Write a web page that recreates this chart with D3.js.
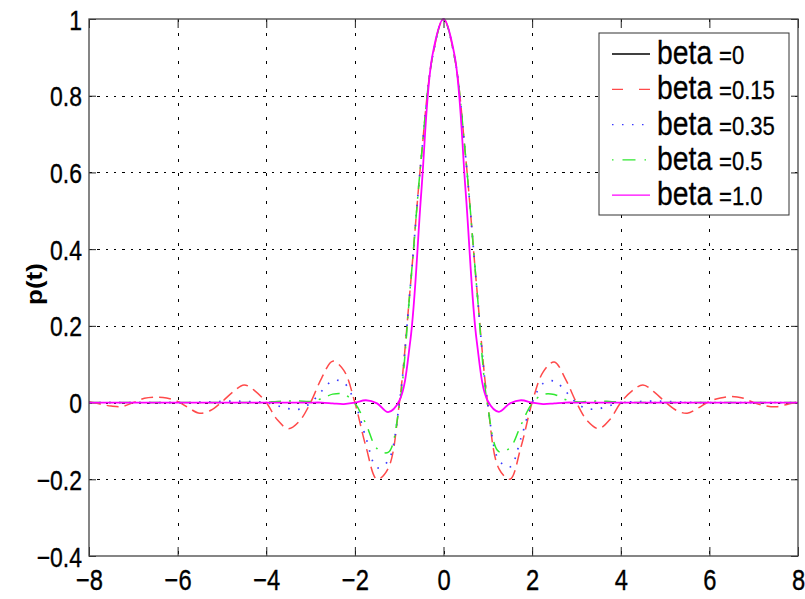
<!DOCTYPE html>
<html><head><meta charset="utf-8">
<script src="https://cdn.jsdelivr.net/npm/d3@7"></script>
<style>html,body{margin:0;padding:0;background:#fff;} svg{display:block;font-family:"Liberation Sans",Arial,Helvetica,sans-serif;}</style>
</head><body><svg id="chart" width="805" height="599"></svg>
<script>
// ---- data ----
const tValues = [-8,-7.75,-7.5,-7.25,-7,-6.75,-6.5,-6.25,-6,-5.75,-5.5,-5.25,-5,-4.75,-4.5,-4.25,-4,-3.75,-3.5,-3.25,-3,-2.75,-2.5,-2.25,-2,-1.75,-1.5,-1.25,-1,-0.75,-0.5,-0.25,0,0.25,0.5,0.75,1,1.25,1.5,1.75,2,2.25,2.5,2.75,3,3.25,3.5,3.75,4,4.25,4.5,4.75,5,5.25,5.5,5.75,6,6.25,6.5,6.75,7,7.25,7.5,7.75,8];
const beta015 = [0.002,-0.004,-0.009,-0.010,0.0,0.011,0.014,0.012,0.003,-0.014,-0.028,-0.020,0.002,0.028,0.046,0.030,0.0,-0.045,-0.068,-0.048,0.0,0.064,0.108,0.084,0.0,-0.115,-0.200,-0.172,-0.005,0.30,0.64,0.90,1.0,0.90,0.64,0.30,-0.005,-0.172,-0.200,-0.115,0.0,0.080,0.106,0.062,0.0,-0.048,-0.068,-0.045,0.0,0.030,0.046,0.028,0.002,-0.020,-0.028,-0.014,0.003,0.012,0.016,0.012,0.0,-0.008,-0.011,-0.005,0.002];
const beta035 = [0,0,0,0,0,0,0,0,0,0,0.001,0.002,0.003,0.004,0.003,0.002,0.0,-0.008,-0.016,-0.017,-0.001,0.030,0.057,0.052,0.0,-0.092,-0.170,-0.152,-0.005,0.30,0.64,0.90,1.0,0.90,0.64,0.30,-0.005,-0.150,-0.168,-0.092,0.0,0.050,0.056,0.030,-0.001,-0.016,-0.016,-0.008,0.0,0.002,0.003,0.004,0.003,0.002,0.001,0,0,0,0,0,0,0,0,0,0];
const beta05 = [0,0,0,0,0,0,0,0,0,0,0,0,0,0,0,0,0.001,0.003,0.004,0.004,0.003,0.010,0.022,0.022,-0.002,-0.056,-0.120,-0.130,-0.012,0.30,0.64,0.90,1.0,0.90,0.64,0.30,-0.012,-0.128,-0.118,-0.058,-0.002,0.021,0.021,0.008,0.002,0.003,0.004,0.003,0.001,0,0,0,0,0,0,0,0,0,0,0,0,0,0,0,0];
const beta10 = [0,0,0,0,0,0,0,0,0,0,0,0,0,0,0,0,0,0,0,0,0,0,-0.002,-0.004,0.0,0.006,-0.002,-0.025,0.004,0.16,0.55,0.905,1.0,0.905,0.55,0.16,0.004,-0.024,-0.002,0.006,0.0,-0.004,-0.002,0,0,0,0,0,0,0,0,0,0,0,0,0,0,0,0,0,0,0,0,0,0];
const xTicks = [-8,-6,-4,-2,0,2,4,6,8];
const yTicks = [-0.4,-0.2,0,0.2,0.4,0.6,0.8,1];
const legendNames = ["beta","beta","beta","beta","beta"];
const legendValues = ["=0","=0.15","=0.35","=0.5","=1.0"];
const yLabel = "p(t)";

// ---- styles ----
const styles = [
  {color:"#000000", dash:null, width:1.2},
  {color:"#ff4a4a", dash:"12,6", width:1.5},
  {color:"#3a3aff", dash:"1.6,8.4", width:1.7},
  {color:"#2fe82f", dash:"12,8,2,8", width:1.5},
  {color:"#ff00ff", dash:null, width:1.8}
];
const series = [
  {values:beta015, style:styles[1]},
  {values:beta035, style:styles[2]},
  {values:beta05, style:styles[3]},
  {values:beta10, style:styles[4]}
];

const svg = d3.select("#chart");
svg.append("rect").attr("width",805).attr("height",599).attr("fill","#fff");
const L=89, R=798, T=19, B=556;
const x = d3.scaleLinear().domain([-8,8]).range([L,R]);
const y = d3.scaleLinear().domain([-0.4,1]).range([B,T]);
const sx = 0.82;

// grid
const grid = svg.append("g").attr("stroke","#000").attr("stroke-width",1).attr("shape-rendering","crispEdges");
grid.selectAll("line.v").data(xTicks.slice(1,-1)).join("line").attr("class","v")
  .attr("x1",d=>Math.round(x(d))+0.5).attr("x2",d=>Math.round(x(d))+0.5)
  .attr("y1",T).attr("y2",B).attr("stroke-dasharray","3,11");
grid.selectAll("line.h").data(yTicks.slice(1,-1)).join("line").attr("class","h")
  .attr("y1",d=>Math.round(y(d))+0.5).attr("y2",d=>Math.round(y(d))+0.5)
  .attr("x1",L).attr("x2",R).attr("stroke-dasharray","2.5,5.8");

// axes ticks (inside) on all four sides
const tickCol = "#222";
function styleAxis(g){ g.select(".domain").remove(); g.selectAll(".tick line").attr("stroke",tickCol); }
svg.append("g").attr("transform",`translate(${L},0)`).call(d3.axisLeft(y).tickValues(yTicks).tickSize(-7).tickFormat(""))
  .call(styleAxis);
svg.append("g").attr("transform",`translate(${R},0)`).call(d3.axisRight(y).tickValues(yTicks).tickSize(-7).tickFormat(""))
  .call(styleAxis);
svg.append("g").attr("transform",`translate(0,${T})`).call(d3.axisTop(x).tickValues(xTicks).tickSize(-9).tickFormat(""))
  .call(styleAxis);
svg.append("g").attr("transform",`translate(0,${B})`).call(d3.axisBottom(x).tickValues(xTicks).tickSize(-9).tickFormat(""))
  .call(styleAxis);

// curves
const line = d3.line().x((d,i)=>x(tValues[i])).y(d=>y(d)).curve(d3.curveCatmullRom.alpha(0.5));
const plot = svg.append("g");
plot.append("clipPath").attr("id","clip").append("rect").attr("x",L).attr("y",T-2).attr("width",R-L).attr("height",B-T+2);
series.forEach(s=>{
  plot.append("path").datum(s.values).attr("d",line).attr("fill","none")
    .attr("stroke",s.style.color).attr("stroke-width",s.style.width)
    .attr("stroke-dasharray",s.style.dash).attr("clip-path","url(#clip)");
});

// border
svg.append("rect").attr("x",L).attr("y",T).attr("width",R-L).attr("height",B-T)
  .attr("fill","none").attr("stroke","#444").attr("stroke-width",1.3);

// tick labels
const fmt = d => (d<0?"\u2212":"") + String(Math.abs(d));
const yl = svg.append("g").attr("transform",`translate(${L},0)`).call(d3.axisLeft(y).tickValues(yTicks).tickSize(0).tickFormat(fmt));
yl.select(".domain").remove();
yl.selectAll("text").attr("font-size",28).attr("font-family","'Liberation Sans',Arial,sans-serif").attr("fill","#000")
  .attr("stroke","#000").attr("stroke-width",0.35)
  .attr("x",-7/sx).attr("dy","0.36em").attr("transform",`scale(${sx},1)`);
const xl = svg.append("g").attr("transform",`translate(0,${B})`).call(d3.axisBottom(x).tickValues(xTicks).tickSize(0).tickFormat(fmt));
xl.select(".domain").remove();
xl.selectAll("text").attr("font-size",29).attr("font-family","'Liberation Sans',Arial,sans-serif").attr("fill","#000")
  .attr("stroke","#000").attr("stroke-width",0.35)
  .attr("y",34).attr("dy","0").attr("transform",`scale(${sx},1)`);

// y label
svg.append("text").attr("transform","translate(35,284) rotate(-90) scale(1,0.87)")
  .attr("text-anchor","middle").attr("y",8).attr("font-size",26).attr("font-weight","bold").text(yLabel);

// legend
const lg = svg.append("g");
lg.append("rect").attr("x",599).attr("y",33).attr("width",190).attr("height",182)
  .attr("fill","#fff").attr("stroke","#333").attr("stroke-width",1);
legendValues.forEach((v,i)=>{
  const sy = 54 + i*35.3;
  const st = styles[i];
  lg.append("line").attr("x1",612).attr("x2",650).attr("y1",sy).attr("y2",sy)
    .attr("stroke",st.color).attr("stroke-width",1.3).attr("stroke-dasharray",
      i===1?"11,16":(i===2?"1.5,8.5":(i===3?"1.5,9,13,9":null)));
  lg.append("text").attr("transform",`translate(657,${sy+10}) scale(0.86,1)`)
    .attr("font-size",33).attr("fill","#000").attr("stroke","#000").attr("stroke-width",0.3).text(legendNames[i]);
  lg.append("text").attr("transform",`translate(719,${sy+10}) scale(0.85,1)`)
    .attr("font-size",26).attr("fill","#000").attr("stroke","#000").attr("stroke-width",0.3).text(v);
});
</script></body></html>
